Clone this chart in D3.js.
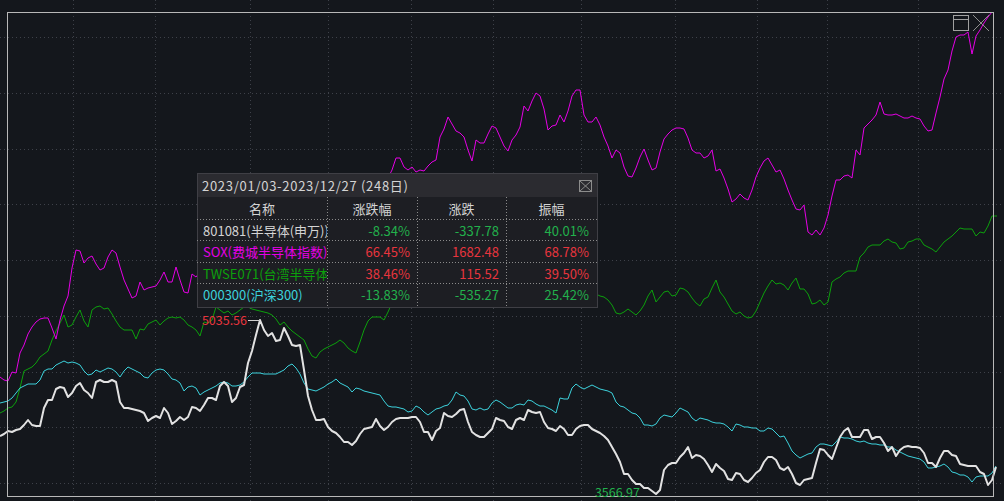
<!DOCTYPE html>
<html><head><meta charset="utf-8">
<script src="https://cdn.jsdelivr.net/npm/d3@7"></script>
<style>html,body{margin:0;padding:0;background:#14171c;overflow:hidden}</style>
</head><body><svg id="c" width="1004" height="501"></svg>
<script>
// ---------------- data ----------------
const title = "2023/01/03-2023/12/27 (248日)";
const headers = ["名称", "涨跌幅", "涨跌", "振幅"];
const names = ["801081(半导体(申万))", "SOX(费城半导体指数)", "TWSE071(台湾半导体指数)", "000300(沪深300)"];
const changePct = ["-8.34%", "66.45%", "38.46%", "-13.83%"];
const changeAbs = ["-337.78", "1682.48", "115.52", "-535.27"];
const amplitude = ["40.01%", "68.78%", "39.50%", "25.42%"];
const maxLabel = "5035.56";
const minLabel = "3566.97";
// month boundaries (trading-day index) and horizontal grid levels (% change)
const monthBreaks = [18.25, 38.75, 62.5, 82, 102.75, 123.25, 145.25, 168.75, 189.25, 206.75, 229.5];
const gridLevels = [78.8, 67.6, 56.4, 45.4, 34.2, 23.0, 11.8, 0.8, -10.4];
const selection = [1.75, 248.25];

// % change series, one value per trading day
const semi = [
-1.0,-0.6,0,-0.2,0.2,0.4,1.2,2.2,1.2,1.0,
1.0,4.6,6.2,6.2,8.4,8.8,8.6,6.8,7.6,9.0,
9.6,8.2,7.6,6.6,9.8,10.2,9.8,9.8,10.2,9.8,
5.8,4.6,4.6,4.4,4.2,4.0,3.6,2.0,2.6,3.0,
2.6,4.6,3.6,1.4,2.0,2.8,2.2,2.8,4.8,4.6,
4.0,5.2,6.6,6.6,6.2,9.0,9.8,9.0,5.8,6.6,
8.8,9.2,13.6,16.0,19.2,22.2,20.2,19.0,19.6,18.0,
18.2,20.6,19.0,17.2,17.0,17.2,12.2,7.0,4.2,2.2,
2.2,2.4,0.8,0,-0.4,-1.2,-2.2,-2.2,-2.8,-2.0,
-0.6,0.4,0.6,0.8,2.4,1.0,0.2,0.8,1.8,2.4,
2.6,2.6,2.6,2.8,2.8,1.8,-0.2,-0.2,-1.8,0,
0.6,3.6,3.0,2.8,3.4,4.2,4.4,1.8,-0.2,-0.8,
-1.2,-1.2,-0.4,0.4,2.6,2.2,2.0,0.8,0.4,2.2,
2.6,2.2,4.2,3.8,3.6,3.8,1.8,0.6,0.4,0,
1.0,0.4,-0.8,-0.8,0.4,1.0,1.2,1.2,0.4,0,
-0.4,-1.0,-1.8,-3.2,-4.6,-6.2,-8.6,-8.6,-9.8,-10.6,
-10.6,-11.4,-11.4,-12.0,-12.6,-11.8,-7.8,-6.8,-6.4,-6.4,
-5.2,-4.4,-3.2,-5.4,-4.8,-5.0,-5.6,-6.8,-8.2,-6.6,
-7.4,-8.0,-9.6,-9.8,-8.4,-8.6,-9.8,-10.2,-9.4,-8.4,
-7.8,-6.2,-5.2,-5.2,-5.8,-7.4,-7.8,-7.2,-8.6,-10.4,
-10.8,-9.8,-9.6,-9.4,-6.4,-3.6,-3.8,-4.8,-5.6,-3.4,
-1.2,0,0.6,-1.2,-1.2,-1.2,0.2,0.2,-1.6,-1.2,
-1.2,-2.4,-4.0,-3.2,-5.0,-3.8,-3.2,-3.0,-3.2,-3.2,
-3.4,-4.4,-6.4,-6.4,-7.2,-5.4,-4.0,-4.0,-4.8,-5.0,
-6.6,-6.8,-7.0,-7.0,-7.0,-8.2,-8.6,-10.8,-9.8,-7.2];

const sox = [
10.8,10.2,10.0,11.8,11.6,15.6,17.2,19.4,20.8,21.8,
22.4,22.6,22.6,20.6,18.4,22.2,25.0,27.0,32.6,36.2,
36.0,33.6,34.6,35.0,33.4,32.2,32.6,34.8,36.2,35.6,
32.8,30.2,28.4,26.6,27.0,29.8,28.2,28.6,28.8,29.0,
30.2,31.8,29.8,29.8,32.8,30.2,27.8,27.6,31.4,30.8,
31.8,32.6,32.2,33.8,35.2,34.6,36.2,37.4,36.6,38.2,
39.0,38.2,39.8,41.0,40.2,41.8,42.6,41.4,43.0,44.2,
43.4,45.0,46.2,45.2,46.6,47.4,46.2,45.0,44.2,45.4,
46.6,45.8,47.0,48.2,47.4,48.6,49.4,48.2,49.0,50.2,
49.4,50.6,49.8,49.0,50.2,51.0,50.2,50.6,52.2,54.6,
54.6,52.8,52.2,52.8,51.8,52.2,52.0,53.0,53.8,54.2,
58.8,60.4,62.8,61.4,60.0,59.6,58.8,56.2,54.0,58.2,
57.6,57.6,59.4,61.0,60.6,58.8,57.0,56.0,58.2,59.2,
60.8,65.0,64.0,66.0,67.6,67.0,64.4,60.2,61.0,61.2,
63.2,61.8,64.0,67.0,68.2,68.2,63.2,61.8,61.8,62.8,
61.2,58.8,57.0,54.6,56.2,55.6,52.8,51.0,50.8,52.6,
54.8,56.4,54.2,52.2,52.6,55.8,58.4,59.4,60.2,60.6,
60.6,60.4,58.6,56.2,55.6,55.6,54.6,55.0,56.2,52.0,
52.4,50.6,48.4,45.8,46.4,47.4,46.6,46.2,48.2,50.8,
52.6,54.0,54.6,53.2,51.8,52.2,50.4,48.2,46.2,44.4,
44.2,45.2,39.8,39.2,40.2,39.2,40.6,43.2,47.0,50.2,
50.2,51.0,51.2,50.6,56.2,55.2,60.6,61.4,62.2,63.2,
65.8,63.4,63.2,63.2,63.4,63.0,62.6,62.6,63.0,62.6,
62.4,61.0,60.0,60.2,63.6,66.8,70.4,72.2,76.0,78.8,
79.2,79.2,79.8,75.4,79.0,80.2,81.6,82.8,83.8];

const twse = [
3.6,4.0,4.6,4.8,5.8,8.6,12.0,12.4,12.8,13.6,
14.8,15.4,16.0,18.2,20.0,21.6,23.2,20.8,21.2,22.8,
24.2,22.0,20.8,24.2,24.8,25.0,24.4,24.6,23.4,22.0,
20.8,20.2,20.2,20.2,18.4,20.4,20.2,21.4,21.8,22.2,
21.2,22.0,22.6,22.8,22.6,22.8,22.2,21.2,20.8,20.2,
19.0,21.8,21.6,22.2,24.8,24.2,23.6,24.0,23.2,23.6,
24.2,24.8,24.8,24.4,24.2,24.0,23.8,23.6,23.2,22.4,
21.2,21.8,20.8,20.0,19.4,18.8,18.2,16.4,15.0,14.6,
15.8,16.4,16.8,17.2,17.6,18.2,17.6,16.6,16.0,15.6,
17.8,20.2,22.0,22.8,22.8,22.8,22.2,23.8,25.6,26.2,
26.6,25.8,27.0,27.8,27.2,28.2,27.6,28.6,29.2,28.2,
28.8,29.8,29.2,30.2,29.6,28.6,29.4,30.2,31.0,30.4,
29.6,29.0,30.0,30.8,30.2,29.4,28.6,29.2,29.8,30.6,
30.0,29.2,28.4,27.8,28.6,29.4,28.8,28.0,27.2,27.8,
28.6,28.2,27.4,26.8,26.2,27.0,27.8,27.4,27.0,27.4,
27.0,26.8,26.2,25.2,23.6,23.4,23.8,24.4,23.8,23.2,
24.0,25.2,27.0,28.2,25.8,26.8,27.8,28.0,27.0,27.2,
28.6,28.4,27.8,26.6,25.6,25.0,26.4,26.8,28.6,30.2,
27.8,26.8,25.4,24.0,23.4,23.8,23.0,22.6,22.8,24.0,
25.8,27.6,29.0,30.2,29.4,29.6,29.2,28.2,29.6,30.6,
28.4,28.4,27.4,25.4,25.6,26.2,25.2,25.8,29.8,30.4,
30.8,31.6,32.0,32.0,32.0,34.8,35.6,36.8,37.2,37.2,
37.2,38.0,38.4,37.8,37.6,36.4,36.6,37.8,38.0,38.4,
38.4,37.2,36.8,36.4,35.8,36.8,37.8,38.4,39.0,39.8,
40.6,40.4,40.4,40.4,39.0,39.8,39.6,41.0,43.0];

const csi = [
5.6,5.8,6.0,6.6,7.6,8.6,9.0,9.4,9.4,9.4,
10.2,12.0,12.4,12.4,13.2,13.6,14.0,13.6,13.8,13.6,
13.2,12.0,11.2,11.4,12.2,11.8,12.2,12.6,12.4,11.8,
10.8,12.0,12.8,12.4,12.0,11.6,10.8,10.6,11.6,12.2,
12.4,12.2,11.4,10.4,10.2,9.6,8.0,8.8,9.0,8.6,
7.2,7.8,8.2,8.6,9.0,9.6,9.8,9.6,9.0,9.0,
9.2,9.8,10.8,11.6,11.6,11.6,11.4,11.4,11.4,11.4,
11.8,12.2,13.0,13.4,12.6,11.4,9.6,8.4,8.2,8.0,
8.4,8.8,9.4,9.8,10.4,9.6,9.2,8.8,7.8,8.6,
8.4,8.0,7.8,7.6,7.4,7.2,6.0,5.0,4.8,4.8,
4.6,4.4,3.8,4.0,5.0,4.6,3.8,3.2,3.8,4.4,
4.6,5.0,5.2,6.2,7.8,7.2,7.0,6.0,4.4,4.2,
4.6,4.2,4.4,5.6,6.2,5.8,5.2,4.6,4.6,5.2,
5.4,5.2,6.2,6.0,5.4,5.0,5.0,4.6,4.2,3.6,
6.6,6.4,6.4,8.6,9.4,8.8,8.4,8.8,9.2,8.8,
8.4,8.2,8.0,7.6,5.8,5.0,4.8,4.2,3.6,3.4,
2.6,1.2,1.2,1.0,1.4,2.6,3.2,3.0,2.8,3.6,
4.6,4.2,3.8,2.6,2.0,2.6,2.4,2.2,1.8,1.6,
1.6,1.4,0.8,0,1.4,1.2,0.8,0.8,0.6,0.6,
0,0,0.6,0.4,-0.4,-1.2,-1.0,-2.4,-4.0,-4.8,
-5.4,-5.0,-4.6,-4.4,-3.2,-2.6,-2.6,-2.8,-3.0,-2.2,
-1.2,-1.4,-1.4,-1.6,-2.0,-2.2,-2.0,-2.4,-2.6,-2.6,
-2.8,-2.8,-3.2,-3.2,-3.8,-4.2,-4.6,-5.0,-5.2,-5.4,
-5.6,-6.2,-7.4,-7.4,-7.2,-7.0,-6.6,-7.2,-8.2,-8.4,
-8.8,-8.8,-9.2,-10.2,-9.2,-9.0,-9.0,-9.0,-8.4,-7.0];

// ---------------- styles ----------------
const C = {
  bg: "#14171c", grid: "#3e4149", frame: "#b8b8b8",
  semi: "#e2e2e2", sox: "#e600e6", twse: "#0ca00c", csi: "#3cd2dc",
  red: "#e8353e", green: "#22b14c", text: "#d4d4d4",
  tipTitle: "#2b2b30", tipBody: "#1d1e23", tipBorder: "#3f3f45", icon: "#a0a0a0"
};
const FONT = "'Noto Sans CJK SC','Noto Sans',sans-serif";

const W = 1004, H = 501;
const svg = d3.select("#c");
svg.append("rect").attr("width", W).attr("height", H).attr("fill", C.bg);

const x = d3.scaleLinear().domain([0, 249]).range([0, 996]);
const y = d3.scaleLinear().domain([-13, 84]).range([496, 11]);

// grid
const g = svg.append("g");
g.selectAll("line.v").data(monthBreaks).join("line")
  .attr("x1", d => Math.round(x(d)) + 0.5).attr("x2", d => Math.round(x(d)) + 0.5)
  .attr("y1", 0).attr("y2", H)
  .attr("stroke", C.grid).attr("stroke-dasharray", "1,3").attr("shape-rendering", "crispEdges");
g.selectAll("line.h").data(gridLevels).join("line")
  .attr("y1", d => Math.round(y(d)) + 0.5).attr("y2", d => Math.round(y(d)) + 0.5)
  .attr("x1", 0).attr("x2", W)
  .attr("stroke", C.grid).attr("stroke-dasharray", "1,3").attr("shape-rendering", "crispEdges");

// lines
const line = d3.line().x((d, i) => x(i)).y(d => y(d));
const series = [
  {v: twse, c: C.twse, w: 1},
  {v: sox, c: C.sox, w: 1},
  {v: csi, c: C.csi, w: 1},
  {v: semi, c: C.semi, w: 2}
];
series.forEach(s => {
  svg.append("path").attr("d", line(s.v)).attr("fill", "none")
    .attr("stroke", s.c).attr("stroke-width", s.w).attr("stroke-linejoin", "round");
});
// last-value tick on TWSE
const lt = twse.length - 1;
svg.append("line").attr("x1", x(lt)).attr("x2", x(lt) + 5)
  .attr("y1", y(twse[lt])).attr("y2", y(twse[lt])).attr("stroke", C.twse);

// selection frame
const fx0 = x(selection[0]), fx1 = x(selection[1]);
const fy0 = Math.round(y(d3.max(sox))), fy1 = y.range()[0];
svg.append("rect").attr("x", fx0 + 0.5).attr("y", fy0 + 0.5)
  .attr("width", fx1 - fx0).attr("height", fy1 - fy0)
  .attr("fill", "none").attr("stroke", C.frame).attr("shape-rendering", "crispEdges");

// max / min labels on main series
const iMax = d3.maxIndex(semi), iMin = d3.minIndex(semi);
svg.append("line").attr("x1", x(iMax) - 12).attr("x2", x(iMax))
  .attr("y1", y(semi[iMax]) + 0.5).attr("y2", y(semi[iMax]) + 0.5).attr("stroke", "#cfcfcf");
svg.append("text").attr("x", x(iMax) - 13).attr("y", y(semi[iMax]) + 4.5)
  .attr("text-anchor", "end").attr("fill", C.red)
  .style("font", "12.5px " + FONT).text(maxLabel);
svg.append("text").attr("x", x(iMin) - 16).attr("y", 496.5)
  .attr("text-anchor", "end").attr("fill", C.green)
  .style("font", "12.5px " + FONT).text(minLabel);

// ---------------- tooltip table ----------------
const tip = {x: 197, y: 173, w: 400, h: 134, titleH: 24};
const cols = [197, 327, 417, 506, 597];
const rowTops = [197, 218.6, 240.2, 261.8, 283.4, 307];
const tg = svg.append("g");
tg.append("rect").attr("x", tip.x + 0.5).attr("y", tip.y + 0.5).attr("width", tip.w).attr("height", tip.h)
  .attr("fill", C.tipBody).attr("stroke", C.tipBorder).attr("shape-rendering", "crispEdges");
tg.append("rect").attr("x", tip.x + 1).attr("y", tip.y + 1).attr("width", tip.w - 1).attr("height", tip.titleH - 1)
  .attr("fill", C.tipTitle).attr("shape-rendering", "crispEdges");
tg.append("text").attr("x", 202).attr("y", 190.5).attr("fill", C.text)
  .attr("textLength", 206).attr("lengthAdjust", "spacing")
  .style("font", "13px " + FONT).text(title);
// close box
tg.append("rect").attr("x", 579.5).attr("y", 180.5).attr("width", 12).attr("height", 11)
  .attr("fill", "none").attr("stroke", "#8c8c8c").attr("shape-rendering", "crispEdges");
tg.append("path").attr("d", "M580,181L591,191M591,181L580,191").attr("stroke", "#8c8c8c");

// separators
tg.selectAll("line.cs").data(cols.slice(1, 4)).join("line")
  .attr("x1", d => d + 0.5).attr("x2", d => d + 0.5).attr("y1", rowTops[0]).attr("y2", rowTops[5])
  .attr("stroke", "#8a8a8a").attr("stroke-dasharray", "1,2").attr("shape-rendering", "crispEdges");
tg.selectAll("line.rs").data(rowTops.slice(1, 5)).join("line")
  .attr("x1", cols[0]).attr("x2", cols[4]).attr("y1", d => Math.round(d) + 0.5).attr("y2", d => Math.round(d) + 0.5)
  .attr("stroke", "#8a8a8a").attr("stroke-dasharray", "1,2").attr("shape-rendering", "crispEdges");

// header
headers.forEach((h, k) => {
  tg.append("text").attr("x", (cols[k] + cols[k + 1]) / 2).attr("y", rowTops[0] + 16.5)
    .attr("text-anchor", "middle").attr("fill", C.text).style("font", "13px " + FONT).text(h);
});
// clip for names
svg.append("defs").append("clipPath").attr("id", "nameClip")
  .append("rect").attr("x", cols[0]).attr("y", rowTops[0]).attr("width", cols[1] - cols[0]).attr("height", 110);
const nameColors = [C.text, C.sox, C.twse, C.csi];
const colorOf = s => s.trim().startsWith("-") ? C.green : C.red;
const ampColors = [C.green, C.red, C.red, C.green];
names.forEach((n, r) => {
  const by = rowTops[r + 1] + 17;
  tg.append("text").attr("x", 203).attr("y", by).attr("fill", nameColors[r])
    .attr("clip-path", "url(#nameClip)").style("font", "13px " + FONT).text(n);
  tg.append("text").attr("x", 410).attr("y", by).attr("text-anchor", "end")
    .attr("fill", colorOf(changePct[r])).style("font", "13px " + FONT).text(changePct[r]);
  tg.append("text").attr("x", 499).attr("y", by).attr("text-anchor", "end")
    .attr("fill", colorOf(changeAbs[r])).style("font", "13px " + FONT).text(changeAbs[r]);
  tg.append("text").attr("x", 589).attr("y", by).attr("text-anchor", "end")
    .attr("fill", ampColors[r]).style("font", "13px " + FONT).text(amplitude[r]);
});

// ---------------- window icons ----------------
const ic = svg.append("g").attr("stroke", C.icon).attr("fill", "none").attr("shape-rendering", "crispEdges");
ic.append("rect").attr("x", 953.5).attr("y", 15.5).attr("width", 15).attr("height", 15);
ic.append("line").attr("x1", 953.5).attr("x2", 968.5).attr("y1", 19.5).attr("y2", 19.5);
svg.append("path").attr("d", "M973,15L989,31M989,15L973,31").attr("stroke", "#8e8e8e").attr("fill", "none");
</script></body></html>
